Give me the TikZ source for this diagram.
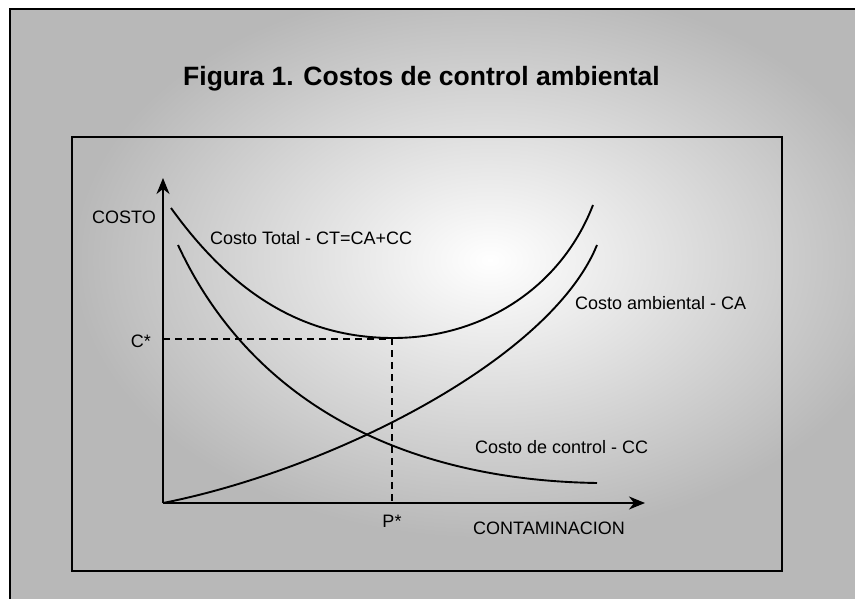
\documentclass[tikz,border=0pt]{standalone}
\usepackage{fontspec}
\setmainfont{Liberation Sans}
\usetikzlibrary{arrows.meta}
\definecolor{bggray}{gray}{0.72}
\begin{document}
\begin{tikzpicture}[x=1pt,y=-1pt,
  curve/.style={line width=1.9pt},
  axis/.style={line width=1.5pt,-{Stealth[length=16pt,width=13pt,inset=5pt]}},
  guide/.style={line width=1.2pt,dash pattern=on 7pt off 5pt},
  lbl/.style={font=\fontsize{18}{20}\selectfont,inner sep=0pt},
  ttl/.style={font=\bfseries\fontsize{26.5}{30}\selectfont,inner sep=0pt}
  ]
\useasboundingbox (0,0) rectangle (855,599);
\fill[white] (0,0) rectangle (855,599);
\begin{scope}
  \clip (10,9) rectangle (855,599);
  \fill[bggray] (10,9) rectangle (860,604);
  \shade[inner color=white, outer color=bggray] (490,260) ellipse [x radius=420, y radius=280];
\end{scope}
\draw[line width=2pt] (860,9) -- (10,9) -- (10,604);
\draw[line width=2.5pt] (72,137) rectangle (782,571);

% title
\node[ttl,anchor=base] (title) at (421.5,86) {Figura 1. Costos de control ambiental};

% axes
\coordinate (O) at (163,503);
\coordinate (Ytop) at (163,178);
\coordinate (Xend) at (645,503);
\draw[axis] (O) -- (Ytop);
\draw[axis] (O) -- (Xend);

% curves
\coordinate (ct0) at (171,208);
\coordinate (ctmin) at (393,338);
\coordinate (ct1) at (593,205);
\draw[curve] (ct0) .. controls (230,290) and (300,338) .. (ctmin) .. controls (480,338) and (560,290) .. (ct1);

\coordinate (ca1) at (597,245);
\draw[curve] (O) .. controls (330,470) and (550,360) .. (ca1);

\coordinate (cc0) at (178,245);
\coordinate (cc1) at (597,483);
\draw[curve] (cc0) .. controls (250,400) and (400,480) .. (cc1);

% guides
\coordinate (Cs) at (163,339);
\coordinate (Pm) at (392,339);
\coordinate (Ps) at (392,503);
\draw[guide] (Cs) -- (Pm) -- (Ps);

% labels
\node[lbl,anchor=base east] (costo) at (156,224) {COSTO};
\node[lbl,anchor=base west] (ctl) at (210,244) {Costo Total - CT=CA+CC};
\node[lbl,anchor=base] (cstar) at (141,347) {C*};
\node[lbl,anchor=base west] (cal) at (575,309) {Costo ambiental - CA};
\node[lbl,anchor=base west] (ccl) at (475,453) {Costo de control - CC};
\node[lbl,anchor=base] (pstar) at (392,527) {P*};
\node[lbl,anchor=base west] (xl) at (473,534) {CONTAMINACION};
\end{tikzpicture}
\end{document}
